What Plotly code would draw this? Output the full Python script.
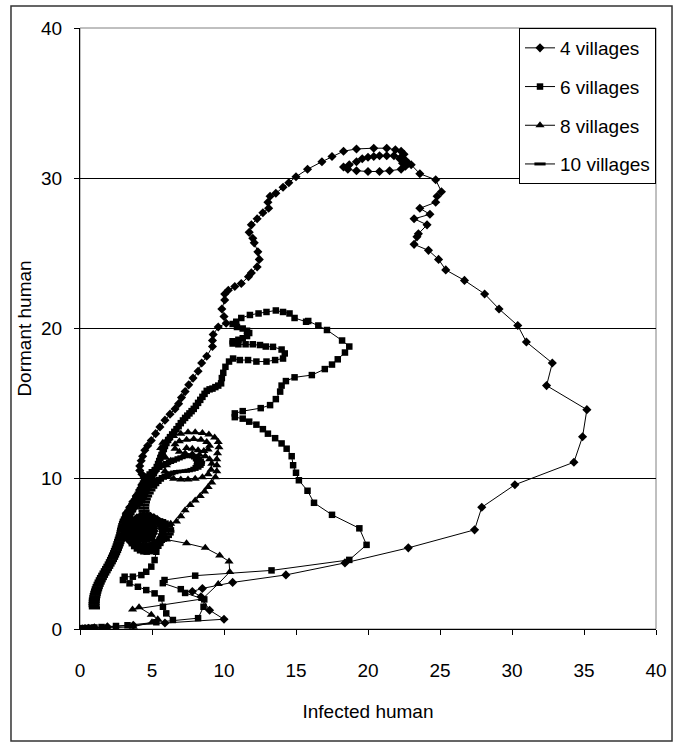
import plotly.graph_objects as go

# ---------------- data ----------------
v4_points = [
    (0, 0), (0.15, 0.02), (0.35, 0.03), (0.6, 0.05), (1.0, 0.08), (1.9, 0.15), (3.7, 0.25), (5.9, 0.4),
    (10.0, 0.65), (9.0, 1.25), (8.4, 2.15), (7.8, 2.5), (8.5, 2.7), (10.6, 3.1), (14.3, 3.6), (18.4, 4.4),
    (22.8, 5.4), (27.4, 6.6), (27.9, 8.1), (30.2, 9.6), (34.3, 11.1), (34.9, 12.8), (35.2, 14.6),
    (32.4, 16.2), (32.8, 17.7), (31.0, 19.1), (30.4, 20.2), (29.1, 21.3), (28.1, 22.3), (26.7, 23.2),
    (25.4, 23.9), (24.9, 24.6), (24.2, 25.2), (23.2, 25.6), (23.4, 26.1), (23.5, 26.3), (24.1, 26.9),
    (23.2, 27.3), (24.3, 27.6), (23.6, 28.0), (24.7, 28.4), (24.8, 28.8), (25.1, 29.1), (24.7, 29.9),
    (23.6, 30.3), (23.0, 30.9), (22.6, 31.1),
    (22.3, 30.6), (21.5, 30.5), (20.8, 30.45), (20.0, 30.45), (19.2, 30.5), (18.6, 30.6), (18.3, 30.75),
    (18.7, 30.9), (19.2, 31.1), (19.6, 31.3), (20.0, 31.4), (20.4, 31.45), (20.8, 31.5), (21.3, 31.5),
    (21.8, 31.5), (22.3, 31.4), (22.6, 31.2), (22.8, 31.0), (22.6, 30.8), (22.4, 31.0), (22.2, 31.3),
    (22.5, 31.6), (22.3, 31.8), (21.9, 31.9), (21.3, 32.0), (20.4, 32.0), (19.2, 31.95), (18.3, 31.8),
    (17.5, 31.45), (16.8, 31.1), (15.8, 30.6), (15.0, 30.1), (14.5, 29.7), (14.1, 29.4), (13.6, 29.0),
    (13.2, 28.8), (13.05, 28.4), (13.1, 28.0), (12.7, 27.7), (12.3, 27.3), (11.9, 26.9), (11.75, 26.4),
    (12.0, 26.0), (12.1, 25.7), (12.35, 25.1), (12.45, 24.6), (12.3, 24.1), (11.9, 23.7), (11.7, 23.45),
    (11.2, 23.0), (10.75, 22.8), (10.3, 22.55), (10.05, 22.3), (10.05, 21.9), (9.85, 21.3), (10.0, 20.8),
    (10.15, 20.35), (9.6, 20.1), (9.25, 19.6), (9.2, 19.2), (9.2, 18.8), (8.8, 18.15), (8.45, 17.7),
    (8.2, 17.15), (7.85, 16.7), (7.55, 16.25), (7.3, 15.8), (7.05, 15.4), (6.85, 15.0), (6.6, 14.65),
    (6.25, 14.3), (5.9, 13.9), (5.55, 13.45), (5.25, 13.0), (4.95, 12.55), (4.7, 12.2), (4.5, 11.9),
    (4.35, 11.5), (4.25, 11.2), (4.15, 10.85), (4.15, 10.55), (4.3, 10.3), (4.45, 10.05), (4.3, 9.6),
    (4.14, 9.25), (3.9, 8.85), (3.67, 8.47), (3.45, 8.1), (3.21, 7.7), (3.05, 7.25), (2.98, 6.8),
    (3.03, 6.55), (3.1, 6.3), (3.25, 6.1), (3.4, 5.9), (3.6, 5.75), (3.8, 5.6), (4.05, 5.5), (4.3, 5.45),
    (4.55, 5.45), (4.8, 5.5), (5.05, 5.58), (5.3, 5.7), (5.47, 5.9), (5.6, 6.1), (5.7, 6.3), (5.75, 6.5),
    (5.73, 6.73), (5.65, 6.95), (5.52, 7.13), (5.35, 7.3), (5.13, 7.42), (4.9, 7.5), (4.65, 7.54),
    (4.4, 7.55), (4.17, 7.5), (3.95, 7.4), (3.78, 7.24), (3.65, 7.05), (3.57, 6.85), (3.55, 6.65),
    (3.6, 6.46), (3.7, 6.3), (3.84, 6.15), (4.0, 6.05), (4.2, 5.98), (4.4, 5.95), (4.6, 5.98), (4.8, 6.05),
    (4.97, 6.18), (5.1, 6.35), (5.15, 6.52), (5.15, 6.7), (5.07, 6.86), (4.95, 7.0), (4.78, 7.07),
    (4.6, 7.1), (4.44, 7.05), (4.3, 6.95), (4.2, 6.8), (4.15, 6.65), (4.2, 6.5), (4.3, 6.4), (4.45, 6.37),
    (4.55, 6.4), (4.63, 6.5), (4.65, 6.6),
]

v6_points = [
    (0, 0), (0.15, 0.03), (0.4, 0.06), (0.7, 0.08), (1.0, 0.1), (1.5, 0.13), (2.5, 0.2), (3.3, 0.25),
    (5.3, 0.45), (8.2, 0.72), (8.58, 1.48), (8.63, 1.97), (7.3, 2.4), (7.0, 2.65), (5.75, 3.05),
    (5.87, 3.26), (8.0, 3.55), (13.3, 3.9), (18.7, 4.6), (19.9, 5.6), (19.4, 6.7), (17.5, 7.6),
    (16.25, 8.4), (15.8, 9.2), (15.2, 9.9), (15.0, 10.4), (14.8, 10.9), (14.7, 11.5), (14.35, 12.0),
    (14.0, 12.35), (13.55, 12.7), (13.05, 13.0), (12.7, 13.3), (12.25, 13.6), (11.75, 13.8), (11.3, 14.0),
    (10.75, 14.1), (10.75, 14.35), (11.3, 14.5), (12.55, 14.7), (13.2, 14.9), (13.6, 15.3), (13.9, 15.8),
    (14.0, 16.2), (14.3, 16.5), (14.9, 16.75), (16.1, 16.9), (17.0, 17.3), (17.5, 17.6), (17.9, 17.95),
    (18.4, 18.4), (18.7, 18.8), (18.2, 19.2), (17.15, 19.9), (16.55, 20.2), (15.85, 20.5), (15.7, 20.45),
    (14.9, 20.7), (14.55, 21.0), (14.1, 21.1), (13.6, 21.2), (12.95, 21.1), (12.4, 21.0), (11.8, 20.9),
    (11.2, 20.7), (10.85, 20.45), (10.6, 20.3), (10.9, 20.1), (11.3, 20.0), (11.6, 19.85), (11.75, 19.7),
    (11.6, 19.5), (11.3, 19.35), (11.0, 19.25), (10.6, 19.15), (10.6, 19.0), (11.0, 18.95), (11.5, 18.95),
    (12.0, 18.95), (12.5, 18.9), (12.9, 18.8), (13.4, 18.78), (14.0, 18.6), (14.22, 18.34), (14.1, 18.0),
    (13.55, 17.9), (12.95, 17.8), (12.25, 17.8), (11.67, 17.9), (11.1, 17.9), (10.63, 18.0), (10.35, 17.8),
    (10.1, 17.45), (9.95, 17.05), (9.85, 16.7),
    (9.8, 16.35), (9.6, 16.2), (9.4, 16.1), (9.2, 16.0), (9.0, 15.95), (8.8, 15.85), (8.65, 15.65),
    (8.5, 15.45), (8.35, 15.25), (8.2, 15.05), (8.05, 14.85), (7.9, 14.65), (7.75, 14.5), (7.6, 14.35),
    (7.45, 14.2), (7.3, 14.05), (7.15, 13.88), (7.0, 13.7), (6.85, 13.5), (6.7, 13.3), (6.55, 13.12),
    (6.4, 12.95), (6.25, 12.77), (6.12, 12.58), (6.0, 12.38), (5.9, 12.18), (5.82, 11.98), (5.74, 11.78),
    (5.66, 11.58), (5.58, 11.38), (5.5, 11.18), (5.42, 10.98), (5.33, 10.78), (5.23, 10.58), (5.13, 10.38),
    (5.03, 10.18), (4.93, 9.98), (4.84, 9.78), (4.76, 9.58), (4.68, 9.38), (4.6, 9.18), (4.52, 8.98),
    (4.43, 8.8), (4.3, 8.63), (4.15, 8.48), (3.98, 8.33), (3.82, 8.17), (3.68, 7.98), (3.56, 7.78),
    (3.47, 7.57), (3.4, 7.35), (3.35, 7.12), (3.32, 6.88), (3.31, 6.64), (3.33, 6.4), (3.38, 6.16),
    (3.47, 5.93), (3.6, 5.71), (3.76, 5.52), (3.95, 5.36), (4.17, 5.24), (4.4, 5.17), (4.63, 5.15),
    (4.86, 5.18), (5.07, 5.26), (5.27, 5.38), (5.44, 5.54), (5.58, 5.73), (5.68, 5.94), (5.74, 6.16),
    (5.76, 6.38), (5.73, 6.6), (5.65, 6.8), (5.52, 6.98), (5.36, 7.12), (5.17, 7.22), (4.97, 7.27),
    (4.76, 7.28), (4.56, 7.23), (4.37, 7.14), (4.21, 7.0), (4.08, 6.84), (4.0, 6.66), (3.98, 6.47),
    (4.02, 6.29), (4.12, 6.13), (4.27, 6.02), (4.45, 5.96), (4.64, 5.96), (4.81, 6.03), (4.95, 6.15),
    (5.04, 6.31), (5.06, 6.49), (5.01, 6.66), (4.9, 6.79), (4.75, 6.86), (4.59, 6.86), (4.46, 6.78),
    (4.4, 6.64), (4.43, 6.5), (4.55, 6.42), (4.68, 6.45),
    (5.0, 6.05), (5.18, 5.7), (5.3, 5.14), (5.18, 4.59), (4.95, 4.15), (4.6, 3.81), (4.26, 3.59),
    (3.67, 3.48), (3.1, 3.48), (2.98, 3.26), (3.44, 3.04), (4.02, 2.81), (4.6, 2.59), (5.18, 2.37),
    (5.65, 2.04), (5.76, 1.48), (5.99, 1.04), (6.45, 0.6),
]

v8_points = [
    (0, 0), (0.3, 0.01), (0.8, 0.02), (1.9, 0.05), (3.7, 0.15), (5.0, 0.45), (5.4, 0.65), (4.95, 0.95),
    (4.1, 1.45), (3.65, 1.3), (8.5, 2.0), (9.6, 3.0), (10.4, 3.8), (10.35, 4.5), (9.7, 4.9), (8.7, 5.4),
    (7.4, 5.7), (6.0, 5.95), (5.75, 6.35), (5.9, 6.75), (6.3, 7.0), (6.7, 7.15), (7.0, 7.5), (7.3, 7.9),
    (7.65, 8.25), (8.0, 8.55), (8.35, 8.85), (8.65, 9.15), (8.9, 9.45), (9.15, 9.75), (9.4, 10.1),
    (9.5, 10.5), (9.5, 10.9), (9.5, 11.3), (9.55, 11.7), (9.65, 12.1), (9.6, 12.45), (9.35, 12.75),
    (8.95, 12.95), (8.5, 13.05), (8.0, 13.1), (7.5, 13.1), (7.0, 13.0), (6.5, 12.85), (6.1, 12.65),
    (5.75, 12.4), (5.6, 12.05), (5.7, 11.7), (5.95, 11.4), (6.3, 11.2), (6.0, 10.9), (5.9, 10.5),
    (6.1, 10.2), (6.5, 10.0), (7.0, 9.95), (7.5, 9.95), (8.0, 10.0), (8.5, 10.1), (8.9, 10.3), (9.1, 10.6),
    (9.15, 11.0), (9.0, 11.3), (8.7, 11.5), (8.3, 11.6), (7.8, 11.65), (7.3, 11.7), (6.9, 11.8),
    (6.6, 12.0), (6.6, 12.3), (6.9, 12.5), (7.4, 12.6), (7.9, 12.65), (8.4, 12.6), (8.8, 12.45),
    (9.0, 12.2), (8.9, 11.95), (8.6, 11.85), (8.2, 11.9), (7.8, 12.0), (7.4, 12.05),
]

v10_points = [
    (1.0, 1.4), (0.98, 1.55), (0.98, 1.7), (0.99, 1.85), (1.0, 2.0), (1.03, 2.15), (1.06, 2.3), (1.1, 2.45),
    (1.15, 2.6), (1.2, 2.75), (1.26, 2.9), (1.33, 3.05), (1.4, 3.2), (1.48, 3.35), (1.56, 3.5), (1.65, 3.65),
    (1.74, 3.8), (1.83, 3.95), (1.92, 4.1), (2.01, 4.25), (2.1, 4.4), (2.18, 4.55), (2.26, 4.7), (2.33, 4.85),
    (2.4, 5.0), (2.47, 5.15), (2.53, 5.3), (2.59, 5.45), (2.65, 5.6), (2.7, 5.75), (2.75, 5.9), (2.8, 6.05),
    (2.85, 6.2), (2.9, 6.35), (2.93, 6.5), (2.96, 6.65), (3.0, 6.8), (3.04, 6.95), (3.09, 7.1), (3.15, 7.25),
    (3.22, 7.4), (3.3, 7.55), (3.38, 7.7), (3.47, 7.85), (3.56, 8.0), (3.65, 8.15), (3.74, 8.3), (3.83, 8.45),
    (3.92, 8.6), (4.01, 8.75), (4.1, 8.9), (4.18, 9.05), (4.26, 9.2), (4.33, 9.35), (4.4, 9.5), (4.47, 9.65),
    (4.54, 9.8), (4.62, 9.95), (4.72, 10.1), (4.85, 10.25), (5.0, 10.4), (5.15, 10.55), (5.35, 10.68),
    (5.55, 10.8), (5.75, 10.9), (5.95, 11.0), (6.15, 11.08), (6.35, 11.16), (6.55, 11.24), (6.75, 11.32),
    (6.95, 11.4), (7.15, 11.46), (7.35, 11.5), (7.55, 11.52), (7.75, 11.5), (7.95, 11.45), (8.1, 11.38),
    (8.22, 11.25), (8.3, 11.1), (8.28, 10.95), (8.2, 10.82), (8.05, 10.7), (7.85, 10.62), (7.65, 10.57),
    (7.45, 10.53), (7.25, 10.5), (7.05, 10.5), (6.85, 10.48), (6.65, 10.45), (6.45, 10.4), (6.25, 10.33),
    (6.05, 10.25), (5.85, 10.15), (5.65, 10.03), (5.45, 9.9), (5.28, 9.75), (5.12, 9.6), (4.98, 9.43),
    (4.85, 9.25), (4.73, 9.05), (4.62, 8.85), (4.53, 8.65), (4.47, 8.45), (4.43, 8.25), (4.42, 8.05),
    (4.45, 7.85), (4.52, 7.68), (4.65, 7.55), (4.82, 7.45), (5.0, 7.38), (5.2, 7.33), (5.4, 7.28),
    (5.6, 7.22), (5.78, 7.13), (5.95, 7.0), (6.07, 6.85), (6.15, 6.68), (6.17, 6.5), (6.12, 6.32),
    (6.0, 6.15), (5.85, 6.02), (5.65, 5.9), (5.45, 5.8), (5.25, 5.72), (5.05, 5.66), (4.85, 5.62),
    (4.65, 5.6), (4.45, 5.59), (4.25, 5.6), (4.05, 5.64), (3.85, 5.72), (3.68, 5.83), (3.53, 5.97),
    (3.42, 6.13), (3.35, 6.3), (3.32, 6.48), (3.34, 6.66), (3.4, 6.83), (3.5, 6.98), (3.64, 7.1),
    (3.8, 7.2), (3.98, 7.26), (4.17, 7.27), (4.36, 7.23), (4.54, 7.15), (4.7, 7.04), (4.82, 6.9),
    (4.88, 6.74), (4.85, 6.58), (4.75, 6.45), (4.6, 6.36), (4.42, 6.32), (4.25, 6.35), (4.1, 6.44),
    (4.02, 6.58), (4.03, 6.73), (4.12, 6.85), (4.27, 6.9), (4.42, 6.85),
]

series_names = ["4 villages", "6 villages", "8 villages", "10 villages"]
x_ticks = [0, 5, 10, 15, 20, 25, 30, 35, 40]
y_ticks = [0, 10, 20, 30, 40]

# ---------------- figure ----------------
FONT = "Liberation Sans Narrow, Arial Narrow, Liberation Sans, Arial, sans-serif"
FS = 19

styles = [
    dict(symbol="diamond", size=7, color="black", line=dict(width=0)),
    dict(symbol="square", size=6.5, color="black", line=dict(width=0)),
    dict(symbol="triangle-up", size=8, color="black", line=dict(width=0)),
    dict(symbol="line-ew", size=8, color="black", line=dict(width=3, color="black")),
]

fig = go.Figure()
for i, (name, pts) in enumerate(zip(series_names, [v4_points, v6_points, v8_points, v10_points])):
    xs = [p[0] for p in pts]
    ys = [p[1] for p in pts]
    fig.add_trace(go.Scatter(
        x=xs, y=ys, mode="lines+markers", name=name, legendgroup=name,
        line=dict(color="black", width=1),
        marker=styles[i],
    ))

fig.update_layout(
    width=678, height=747,
    margin=dict(l=80, r=22, t=28, b=118),
    paper_bgcolor="white", plot_bgcolor="white",
    font=dict(family=FONT, size=FS, color="black"),
    showlegend=True,
    legend=dict(
        x=1, xanchor="right", y=1, yanchor="top",
        bgcolor="white", bordercolor="black", borderwidth=1,
        font=dict(family=FONT, size=FS, color="black"),
        tracegroupgap=11, itemwidth=30,
    ),
    xaxis=dict(
        range=[0, 40], tickvals=x_ticks, ticks="outside", ticklen=5, tickcolor="black",
        showline=True, linecolor="black", linewidth=1, mirror=False,
        showgrid=False, zeroline=False,
        title=dict(text="Infected human", standoff=24, font=dict(size=FS)),
        ticklabelstandoff=19,
    ),
    yaxis=dict(
        range=[0, 40], tickvals=y_ticks, ticks="outside", ticklen=5, tickcolor="black",
        showline=True, linecolor="black", linewidth=1, mirror=False,
        showgrid=True, gridcolor="black", gridwidth=1, zeroline=False,
        title=dict(text="Dormant human", standoff=4, font=dict(size=FS)),
        ticklabelstandoff=8,
    ),
    shapes=[
        dict(type="rect", xref="x domain", yref="y domain", x0=0, x1=1, y0=0, y1=1,
             line=dict(color="#808080", width=1), layer="below"),
        dict(type="rect", xref="paper", yref="paper", x0=-0.1198, x1=1.0278, y0=-0.1864, y1=1.0366,
             line=dict(color="#333333", width=1.5), layer="below"),
    ],
)

fig.write_html("out.html")
